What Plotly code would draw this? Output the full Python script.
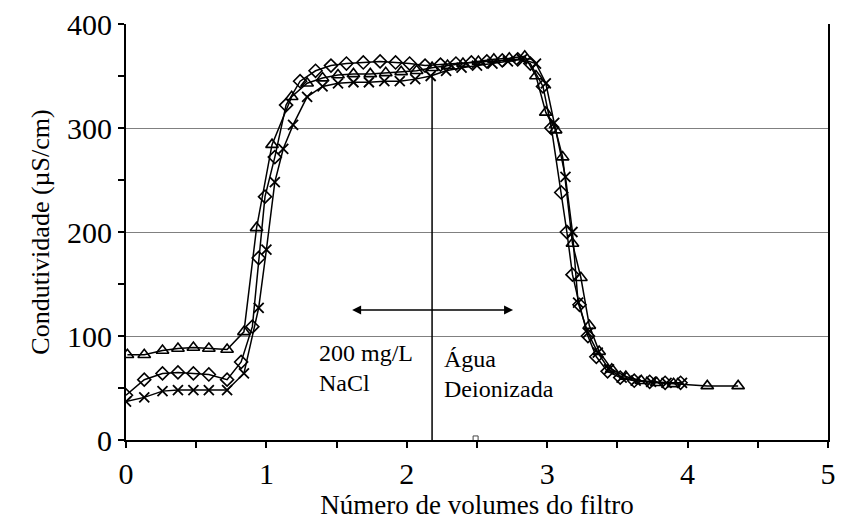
import plotly.graph_objects as go

# Triangles series
tri_x = [0.01, 0.13, 0.26, 0.37, 0.48, 0.59, 0.72, 0.84, 0.93, 1.04, 1.18, 1.29, 1.40, 1.51, 1.62, 1.74, 1.85, 1.96, 2.07, 2.18, 2.29, 2.40, 2.51, 2.62, 2.73, 2.84, 2.92, 2.99, 3.06, 3.11, 3.18, 3.24, 3.30, 3.37, 3.46, 3.56, 3.67, 3.78, 3.90, 4.14, 4.36]
tri_y = [82, 82, 86, 88, 89, 88, 87, 104, 204, 284, 330, 343, 348, 351, 352, 352, 353, 354, 355, 358, 360, 362, 364, 366, 367, 369, 350, 315, 298, 272, 189, 156, 110, 85, 68, 61, 57, 55, 54, 52, 52]

# Diamonds series
dia_x = [0.0, 0.13, 0.26, 0.37, 0.48, 0.59, 0.72, 0.82, 0.90, 0.945, 0.99, 1.06, 1.14, 1.24, 1.35, 1.46, 1.57, 1.69, 1.81, 1.92, 2.02, 2.13, 2.24, 2.35, 2.46, 2.57, 2.68, 2.79, 2.88, 2.97, 3.03, 3.10, 3.14, 3.18, 3.23, 3.29, 3.35, 3.43, 3.52, 3.62, 3.73, 3.84, 3.95]
dia_y = [43, 58, 64, 65, 64, 63, 58, 75, 109, 175, 234, 272, 322, 345, 355, 360, 362, 363, 364, 363, 362, 360, 361, 362, 363, 364, 365, 366, 362, 340, 300, 238, 200, 159, 130, 100, 80, 66, 60, 57, 56, 55, 55]

# Crosses series
crs_x = [0.0, 0.13, 0.26, 0.37, 0.48, 0.59, 0.72, 0.84, 0.945, 1.0, 1.06, 1.12, 1.19, 1.29, 1.40, 1.51, 1.62, 1.73, 1.84, 1.95, 2.06, 2.17, 2.28, 2.39, 2.50, 2.61, 2.72, 2.82, 2.92, 2.99, 3.05, 3.13, 3.18, 3.22, 3.29, 3.36, 3.44, 3.53, 3.63, 3.74, 3.85, 3.96]
crs_y = [37, 41, 47, 48, 48, 48, 48, 64, 127, 183, 248, 280, 303, 330, 340, 343, 344, 344, 345, 345, 347, 350, 355, 358, 360, 362, 364, 366, 362, 343, 305, 253, 200, 132, 103, 84, 68, 60, 57, 56, 55, 55]

switch_x = 2.18
switch_top = 352
arrow_y = 125
arrow_x0, arrow_x1 = 1.60, 2.757

# Text labels: (text, x, y)
labels = [("200 mg/L", 1.37, 84), ("NaCl", 1.37, 55),
          ("Água", 2.257, 78), ("Deionizada", 2.257, 49)]

FONT = "Liberation Serif"

fig = go.Figure()
fig.add_trace(go.Scatter(x=tri_x, y=tri_y, mode="lines+markers",
                         line=dict(color="black", width=1.5),
                         marker=dict(symbol="triangle-up-open", size=11, color="black", line=dict(width=1.6))))
fig.add_trace(go.Scatter(x=dia_x, y=dia_y, mode="lines+markers",
                         line=dict(color="black", width=1.5),
                         marker=dict(symbol="diamond-open", size=10, color="black", line=dict(width=1.6))))
fig.add_trace(go.Scatter(x=crs_x, y=crs_y, mode="lines+markers",
                         line=dict(color="black", width=1.5),
                         marker=dict(symbol="x-thin-open", size=10, color="black", line=dict(width=1.8, color="black"))))
fig.add_trace(go.Scatter(x=[2.49], y=[1.5], mode="markers",
                         marker=dict(symbol="square-open", size=5, color="#444", line=dict(width=1))))

fig.add_shape(type="line", x0=switch_x, x1=switch_x, y0=0, y1=switch_top,
              line=dict(color="black", width=1.5))
fig.add_annotation(x=arrow_x1, y=arrow_y, ax=arrow_x0, ay=arrow_y, axref="x", ayref="y",
                   xref="x", yref="y", text="", showarrow=True, arrowhead=2, arrowside="end+start",
                   arrowsize=1.2, arrowwidth=1.5, arrowcolor="black")
for txt, lx, ly in labels:
    fig.add_annotation(x=lx, y=ly, xref="x", yref="y", text=txt, showarrow=False,
                       xanchor="left", yanchor="middle", align="left", borderpad=0,
                       font=dict(family=FONT, size=24, color="black"))

fig.update_layout(
    width=842, height=522,
    margin=dict(l=126, r=6, t=24, b=82),
    plot_bgcolor="white", paper_bgcolor="white",
    showlegend=False,
    font=dict(family=FONT, color="black"),
)
fig.update_xaxes(range=[0, 5], dtick=1, showgrid=False, zeroline=False,
                 showline=True, linecolor="black", linewidth=2,
                 ticks="outside", ticklen=6, tickwidth=2, tickcolor="black",
                 minor=dict(dtick=0.5, ticks="outside", ticklen=6, tickwidth=2, tickcolor="black"),
                 tickfont=dict(family=FONT, size=30, color="black"),
                 title=dict(text="Número de volumes do filtro", font=dict(family=FONT, size=27, color="black"), standoff=4))
fig.update_yaxes(range=[0, 400], dtick=100, showgrid=True, gridcolor="#808080", gridwidth=1.2,
                 zeroline=False, showline=True, linecolor="black", linewidth=2, mirror=True,
                 ticks="outside", ticklen=6, tickwidth=2, tickcolor="black",
                 minor=dict(dtick=50, ticks="outside", ticklen=6, tickwidth=2, tickcolor="black"),
                 tickfont=dict(family=FONT, size=30, color="black"),
                 title=dict(text="Condutividade (µS/cm)", font=dict(family=FONT, size=26, color="black"), standoff=10))

fig.write_html("out.html")
